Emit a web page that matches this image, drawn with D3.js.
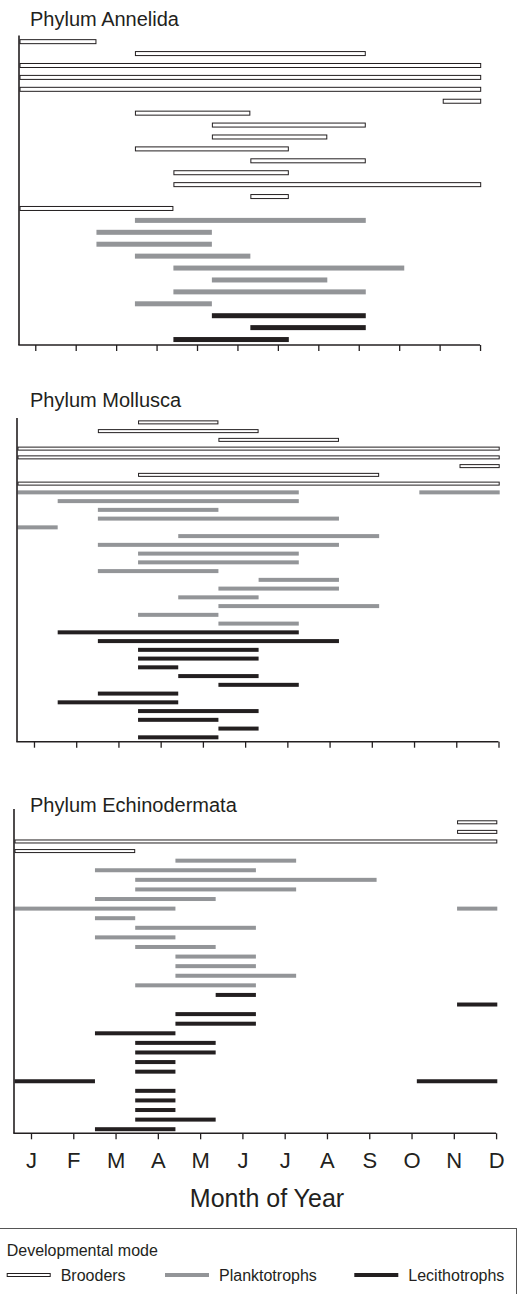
<!DOCTYPE html>
<html>
<head>
<meta charset="utf-8">
<script src="https://cdn.jsdelivr.net/npm/d3@7"></script>
<style>
  body { margin: 0; background: #fff; }
  text { font-family: "Liberation Sans", Arial, sans-serif; fill: #231f20; }
</style>
</head>
<body>
<svg id="chart" width="521" height="1294"></svg>
<script>
// month labels and legend entries
const monthLabels = ["J", "F", "M", "A", "M", "J", "J", "A", "S", "O", "N", "D"];
const modeKeys = ["B", "P", "L"];
const modeNames = ["Brooders", "Planktotrophs", "Lecithotrophs"];

// one row per species: [mode, start month, end month, (start, end of a second span)]
const annelida = [
  ["B", 0, 2], ["B", 3, 9], ["B", 0, 12], ["B", 0, 12], ["B", 0, 12], ["B", 11, 12],
  ["B", 3, 6], ["B", 5, 9], ["B", 5, 8], ["B", 3, 7], ["B", 6, 9], ["B", 4, 7],
  ["B", 4, 12], ["B", 6, 7], ["B", 0, 4],
  ["P", 3, 9], ["P", 2, 5], ["P", 2, 5], ["P", 3, 6], ["P", 4, 10], ["P", 5, 8],
  ["P", 4, 9], ["P", 3, 5],
  ["L", 5, 9], ["L", 6, 9], ["L", 4, 7]
];

const mollusca = [
  ["B", 3, 5], ["B", 2, 6], ["B", 5, 8], ["B", 0, 12], ["B", 0, 12], ["B", 11, 12],
  ["B", 3, 9], ["B", 0, 12],
  ["P", 0, 7, 10, 12], ["P", 1, 7], ["P", 2, 5], ["P", 2, 8], ["P", 0, 1], ["P", 4, 9],
  ["P", 2, 8], ["P", 3, 7], ["P", 3, 7], ["P", 2, 5], ["P", 6, 8], ["P", 5, 8],
  ["P", 4, 6], ["P", 5, 9], ["P", 3, 5], ["P", 5, 7],
  ["L", 1, 7], ["L", 2, 8], ["L", 3, 6], ["L", 3, 6], ["L", 3, 4], ["L", 4, 6],
  ["L", 5, 7], ["L", 2, 4], ["L", 1, 4], ["L", 3, 6], ["L", 3, 5], ["L", 5, 6], ["L", 3, 5]
];

const echinodermata = [
  ["B", 11, 12], ["B", 11, 12], ["B", 0, 12], ["B", 0, 3],
  ["P", 4, 7], ["P", 2, 6], ["P", 3, 9], ["P", 3, 7], ["P", 2, 5], ["P", 0, 4, 11, 12],
  ["P", 2, 3], ["P", 3, 6], ["P", 2, 4], ["P", 3, 5], ["P", 4, 6], ["P", 4, 6],
  ["P", 4, 7], ["P", 3, 6],
  ["L", 5, 6], ["L", 11, 12], ["L", 4, 6], ["L", 4, 6], ["L", 2, 4], ["L", 3, 5],
  ["L", 3, 5], ["L", 3, 4], ["L", 3, 4], ["L", 0, 2, 10, 12], ["L", 3, 4], ["L", 3, 4],
  ["L", 3, 4], ["L", 3, 5], ["L", 2, 4]
];

// tick marks do not sit on month boundaries in the original figure
const tickStart = 0.41, tickEnd = 11.97;

const ink = "#231f20";
const fillColor = d3.scaleOrdinal(modeKeys, ["#fff", "#939598", ink]);
const strokeColor = d3.scaleOrdinal(modeKeys, [ink, "none", "none"]);

const panels = [
  { title: "Phylum Annelida", rows: annelida, x: [19.5, 481.2], band: [35.7, 345.5], top: 35.5, bottom: 345, titleY: 26, barH: 5 },
  { title: "Phylum Mollusca", rows: mollusca, x: [17.5, 499.7], band: [418, 741.7], top: 418, bottom: 741.7, titleY: 406.7, barH: 4 },
  { title: "Phylum Echinodermata", rows: echinodermata, x: [14.5, 497.3], band: [817.5, 1134], top: 809, bottom: 1133.3, titleY: 811.7, barH: 4, labels: true }
];

const svg = d3.select("#chart");
const tickPos = d3.scaleLinear().domain([0, 11]).range([tickStart, tickEnd]);

panels.forEach(p => {
  const x = d3.scaleLinear().domain([0, 12]).range(p.x);
  const y = d3.scaleBand().domain(d3.range(p.rows.length)).range(p.band);
  const g = svg.append("g");

  g.append("text")
    .attr("x", 30).attr("y", p.titleY)
    .style("font-size", "20px")
    .text(p.title);

  const spans = [];
  p.rows.forEach((r, i) => {
    for (let k = 1; k < r.length; k += 2) spans.push({ mode: r[0], row: i, s: r[k], e: r[k + 1] });
  });

  g.selectAll("rect.bar").data(spans).join("rect")
    .attr("class", "bar")
    .attr("x", d => x(d.s) + (d.mode === "B" ? 0.5 : 0))
    .attr("width", d => x(d.e) - x(d.s) - (d.mode === "B" ? 1 : 0))
    .attr("y", d => y(d.row) + y.bandwidth() / 2 - p.barH / 2 + (d.mode === "B" ? 0.5 : 0))
    .attr("height", d => p.barH - (d.mode === "B" ? 1 : 0))
    .attr("fill", d => fillColor(d.mode))
    .attr("stroke", d => strokeColor(d.mode))
    .attr("stroke-width", 1);

  // y axis line
  g.append("line")
    .attr("x1", p.x[0] - 0.5).attr("x2", p.x[0] - 0.5)
    .attr("y1", p.top).attr("y2", p.bottom)
    .attr("stroke", ink).attr("stroke-width", 1.6);

  const axis = d3.axisBottom(x)
    .tickValues(d3.range(12).map(i => tickPos(i)))
    .tickSize(6).tickSizeOuter(0)
    .tickFormat((d, i) => p.labels ? monthLabels[i] : "");

  const ax = g.append("g")
    .attr("transform", `translate(0,${p.bottom})`)
    .call(axis);
  ax.select(".domain").attr("stroke", ink).attr("stroke-width", 1.6)
    .attr("d", `M${p.x[0] - 1.2},0H${x(tickEnd)}`);
  ax.selectAll(".tick line").attr("stroke", ink).attr("stroke-width", 1.3);
  ax.selectAll(".tick text")
    .attr("y", 34.7).attr("dy", 0)
    .style("font-size", "22px")
    .style("font-family", '"Liberation Sans", Arial, sans-serif')
    .attr("fill", ink);
});

svg.append("text")
  .attr("x", 267).attr("y", 1206.7)
  .attr("text-anchor", "middle")
  .style("font-size", "25px")
  .text("Month of Year");

// legend
const legend = svg.append("g");
legend.append("rect")
  .attr("x", -1).attr("y", 1228.5).attr("width", 517.5).attr("height", 100)
  .attr("fill", "none").attr("stroke", "#555").attr("stroke-width", 1);
legend.append("text")
  .attr("x", 6.7).attr("y", 1256)
  .style("font-size", "16px")
  .text("Developmental mode");

const legendX = d3.scaleOrdinal(modeKeys, [6.7, 165, 354.3]);
const item = legend.selectAll("g.item").data(modeKeys).join("g")
  .attr("class", "item")
  .attr("transform", d => `translate(${legendX(d)},1275)`);
item.append("rect")
  .attr("x", d => d === "B" ? 0.5 : 0)
  .attr("y", d => d === "B" ? -1.5 : -2)
  .attr("width", d => d === "B" ? 43 : 44)
  .attr("height", d => d === "B" ? 3 : 4)
  .attr("fill", d => fillColor(d))
  .attr("stroke", d => strokeColor(d));
item.append("text")
  .attr("x", 54).attr("y", 5.5)
  .style("font-size", "16px")
  .text((d, i) => modeNames[i]);
</script>
</body>
</html>
